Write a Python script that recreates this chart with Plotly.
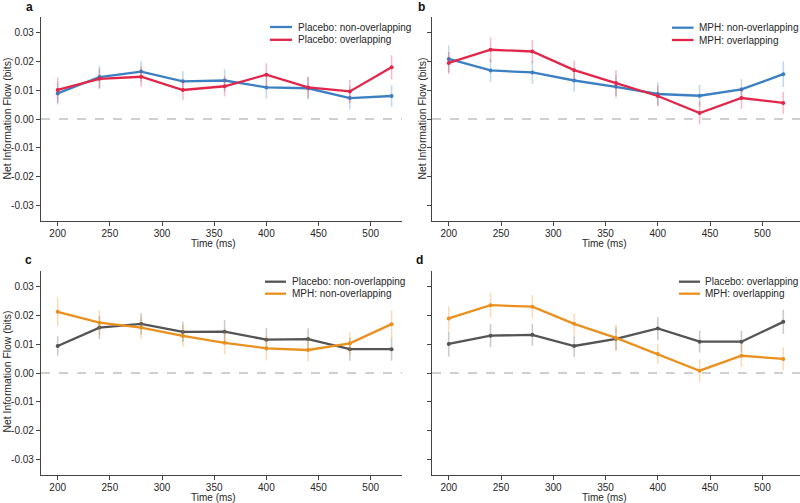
import plotly.graph_objects as go

time_ms = [200, 240, 280, 320, 360, 400, 440, 480, 520]

# Panel a
a_placebo_nonoverlap = [0.0089, 0.0146, 0.0165, 0.0131, 0.0134, 0.0110, 0.0107, 0.0073, 0.0080]
a_placebo_nonoverlap_err = [0.0038, 0.0039, 0.0036, 0.0035, 0.0039, 0.0039, 0.0038, 0.0040, 0.0038]
a_placebo_overlap = [0.0101, 0.0140, 0.0147, 0.0101, 0.0114, 0.0154, 0.0110, 0.0096, 0.0180]
a_placebo_overlap_err = [0.0044, 0.0035, 0.0036, 0.0035, 0.0035, 0.0040, 0.0038, 0.0040, 0.0042]

# Panel b
b_mph_nonoverlap = [0.0209, 0.0169, 0.0162, 0.0134, 0.0112, 0.0087, 0.0081, 0.0103, 0.0156]
b_mph_nonoverlap_err = [0.0047, 0.0040, 0.0040, 0.0038, 0.0040, 0.0040, 0.0038, 0.0035, 0.0045]
b_mph_overlap = [0.0195, 0.0241, 0.0235, 0.0170, 0.0125, 0.0080, 0.0021, 0.0073, 0.0056]
b_mph_overlap_err = [0.0038, 0.0043, 0.0040, 0.0034, 0.0045, 0.0036, 0.0040, 0.0038, 0.0038]

# Panel c
c_placebo_nonoverlap = [0.0094, 0.0158, 0.0171, 0.0143, 0.0144, 0.0116, 0.0118, 0.0083, 0.0083]
c_placebo_nonoverlap_err = [0.0034, 0.0040, 0.0038, 0.0035, 0.0040, 0.0040, 0.0038, 0.0040, 0.0040]
c_mph_nonoverlap = [0.0213, 0.0175, 0.0158, 0.0129, 0.0105, 0.0086, 0.0080, 0.0103, 0.0170]
c_mph_nonoverlap_err = [0.0050, 0.0043, 0.0040, 0.0038, 0.0040, 0.0042, 0.0040, 0.0040, 0.0048]

# Panel d
d_placebo_overlap = [0.0101, 0.0130, 0.0133, 0.0094, 0.0119, 0.0155, 0.0109, 0.0109, 0.0178]
d_placebo_overlap_err = [0.0044, 0.0040, 0.0038, 0.0038, 0.0040, 0.0040, 0.0038, 0.0038, 0.0042]
d_mph_overlap = [0.0190, 0.0236, 0.0231, 0.0171, 0.0122, 0.0066, 0.0008, 0.0060, 0.0049]
d_mph_overlap_err = [0.0042, 0.0043, 0.0040, 0.0035, 0.0045, 0.0035, 0.0040, 0.0040, 0.0040]

y_tickvals = [0.03, 0.02, 0.01, 0.0, -0.01, -0.02, -0.03]
y_ticktext = ["0.03", "0.02", "0.01", "0.00", "-0.01", "-0.02", "-0.03"]
x_tickvals = [200, 250, 300, 350, 400, 450, 500]

x_title = "Time (ms)"
y_title = "Net Information Flow (bits)"

BLUE = "#3b80c2"
RED = "#e2264a"
GRAY = "#545454"
ORANGE = "#ea901f"

def rgba(hexc, a):
    h = hexc.lstrip("#")
    r, g, b = int(h[0:2], 16), int(h[2:4], 16), int(h[4:6], 16)
    return f"rgba({r},{g},{b},{a})"

W, H = 800, 503
FONT = "Liberation Sans, Arial, sans-serif"
FS = 10
TXT = "#262626"

fig = go.Figure()

def add(y, err, name, color, s):
    fig.add_trace(go.Scatter(
        x=time_ms, y=y, name=name, mode="lines+markers",
        line=dict(color=color, width=2.3),
        marker=dict(color=color, size=4),
        error_y=dict(type="data", array=err, visible=True, color=rgba(color, 0.3),
                     thickness=1.6, width=0),
        xaxis="x" + s, yaxis="y" + s, showlegend=False,
    ))

series = {
    "": [(a_placebo_nonoverlap, a_placebo_nonoverlap_err, "Placebo: non-overlapping", BLUE),
         (a_placebo_overlap, a_placebo_overlap_err, "Placebo: overlapping", RED)],
    "2": [(b_mph_nonoverlap, b_mph_nonoverlap_err, "MPH: non-overlapping", BLUE),
          (b_mph_overlap, b_mph_overlap_err, "MPH: overlapping", RED)],
    "3": [(c_placebo_nonoverlap, c_placebo_nonoverlap_err, "Placebo: non-overlapping", GRAY),
          (c_mph_nonoverlap, c_mph_nonoverlap_err, "MPH: non-overlapping", ORANGE)],
    "4": [(d_placebo_overlap, d_placebo_overlap_err, "Placebo: overlapping", GRAY),
          (d_mph_overlap, d_mph_overlap_err, "MPH: overlapping", ORANGE)],
}
for s, lst in series.items():
    for y, e, n, c in lst:
        add(y, e, n, c, s)

# pixel geometry
cols = {1: (41, 402), 2: (432, 800)}
rows = {1: (17, 221), 2: (271, 475)}
xranges = {1: [184, 530], 2: [184, 536]}

axis_common = dict(showline=True, linecolor="#444444", linewidth=1.3, ticks="outside",
                   ticklen=4, tickwidth=1.2, tickcolor="#444444", showgrid=False,
                   zeroline=False, tickfont=dict(size=FS, color=TXT, family=FONT),
                   mirror=False)

layout = dict(width=W, height=H, margin=dict(l=0, r=0, t=0, b=0),
              plot_bgcolor="white", paper_bgcolor="white",
              font=dict(family=FONT, color=TXT), showlegend=False)

panels = [(1, 1, "", "a"), (1, 2, "2", "b"), (2, 1, "3", "c"), (2, 2, "4", "d")]
for r, c, s, lab in panels:
    x0, x1 = cols[c]
    y0, y1 = rows[r]
    layout["xaxis" + s] = dict(axis_common, domain=[x0 / W, x1 / W], range=xranges[c],
                               tickvals=x_tickvals, anchor="y" + s, ticklabelstandoff=-1)
    layout["yaxis" + s] = dict(axis_common, domain=[1 - y1 / H, 1 - y0 / H],
                               range=[-0.0355, 0.0355],
                               tickvals=y_tickvals, ticktext=y_ticktext,
                               showticklabels=(c == 1), anchor="x" + s)
fig.update_layout(**layout)

def ann(text, px, py, xanchor="center", size=FS, angle=0, color=TXT):
    fig.add_annotation(text=text, x=px / W, y=1 - py / H, xref="paper", yref="paper",
                       showarrow=False, xanchor=xanchor, yanchor="middle", textangle=angle,
                       font=dict(size=size, color=color, family=FONT))

# axis titles
xt_pos = {"": (213, 243.5), "2": (604, 243.5), "3": (213, 497), "4": (604, 497)}
for s, (px, py) in xt_pos.items():
    ann(x_title, px, py)
yt_pos = {"": (6.5, 119), "2": (421.5, 119), "3": (6.5, 372)}
for s, (px, py) in yt_pos.items():
    ann(y_title, px, py, angle=-90, size=FS + 0.4)

# manual legends
leg = {
    "": (270, 292, 296, 27, 39.8),
    "2": (672, 693.5, 696.5, 27.7, 40),
    "3": (265, 286, 289.5, 281.7, 293.7),
    "4": (679, 700, 703, 281.7, 293.7),
}
for s, (lx0, lx1, tx, ya, yb) in leg.items():
    for (y, e, n, c), yy in zip(series[s], (ya, yb)):
        fig.add_shape(type="line", xref="paper", yref="paper", x0=lx0 / W, x1=lx1 / W,
                      y0=1 - yy / H, y1=1 - yy / H, line=dict(color=c, width=2.3))
        ann(n, tx, yy, xanchor="left")

# zero dashed lines
for r, c, s, lab in panels:
    fig.add_shape(type="line", xref="x" + s + " domain", yref="y" + s, x0=0, x1=1, y0=0, y1=0,
                  line=dict(color="#a0a0a0", width=1, dash="dash"))

# panel labels
lab_pos = {"a": (29.5, 7), "b": (421.5, 7), "c": (28.5, 259.5), "d": (419.5, 259.5)}
for lab, (px, py) in lab_pos.items():
    ann(f"<b>{lab}</b>", px, py, size=12, color="#111111")

fig.write_html("out.html")
